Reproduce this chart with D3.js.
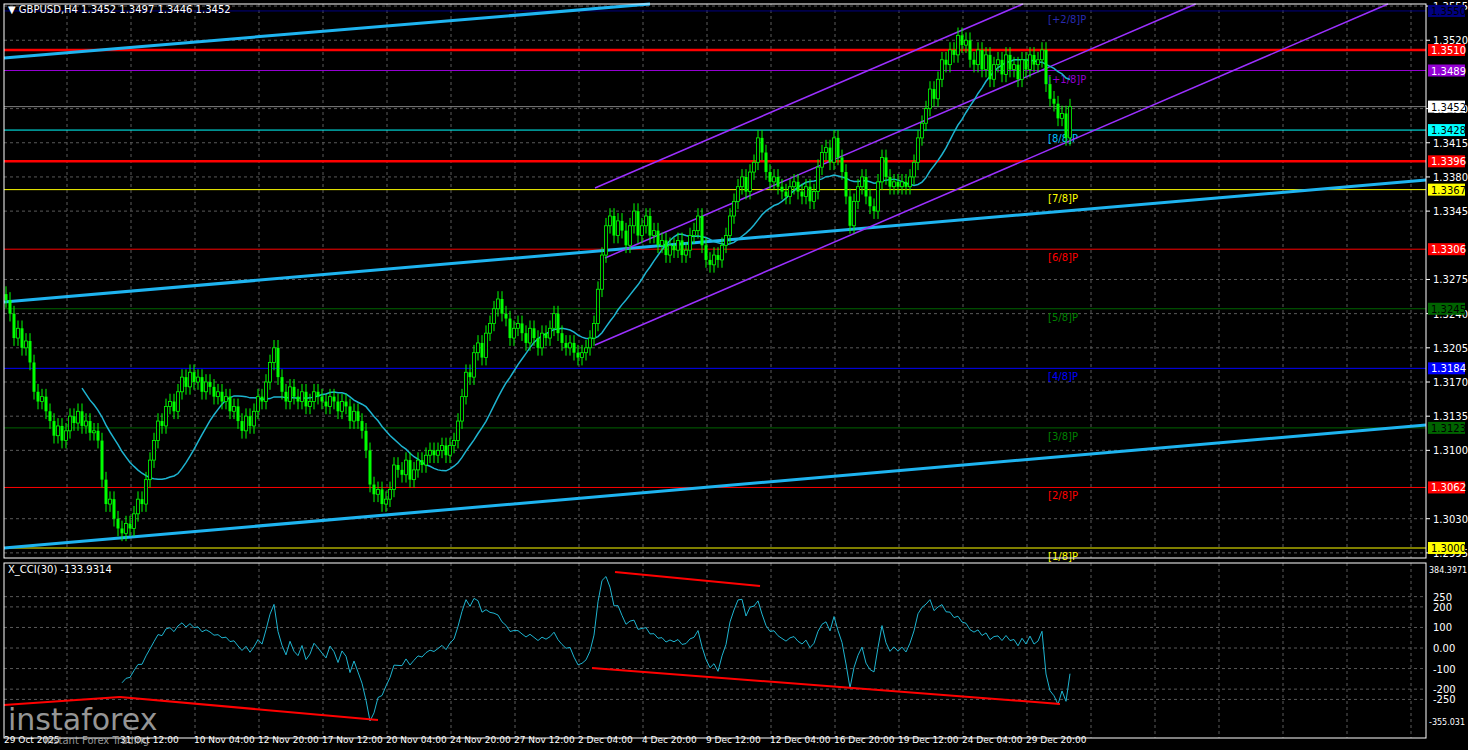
<!DOCTYPE html><html><head><meta charset="utf-8"><script src="https://cdn.jsdelivr.net/npm/d3@7"></script>
<style>body{margin:0;background:#000}svg{display:block}text{font-family:"DejaVu Sans",sans-serif;font-size:10px}</style></head><body><svg id="c" width="1468" height="750"></svg><script>
const closes=[1.3254,1.3240,1.3215,1.3225,1.3205,1.3212,1.3190,1.3160,1.3150,1.3155,1.3140,1.3130,1.3115,1.3125,1.3110,1.3120,
1.3135,1.3128,1.3140,1.3125,1.3130,1.3118,1.3120,1.3110,1.3070,1.3045,1.3050,1.3030,1.3020,1.3015,1.3025,1.3020,
1.3035,1.3050,1.3045,1.3070,1.3090,1.3110,1.3130,1.3125,1.3145,1.3150,1.3140,1.3160,1.3175,1.3165,1.3180,1.3170,
1.3175,1.3160,1.3170,1.3165,1.3155,1.3160,1.3150,1.3155,1.3140,1.3145,1.3130,1.3120,1.3135,1.3125,1.3140,1.3155,
1.3150,1.3170,1.3190,1.3205,1.3175,1.3160,1.3150,1.3165,1.3155,1.3150,1.3160,1.3145,1.3150,1.3160,1.3155,1.3150,
1.3145,1.3155,1.3150,1.3140,1.3150,1.3145,1.3130,1.3140,1.3130,1.3120,1.3100,1.3065,1.3055,1.3060,1.3045,1.3050,
1.3060,1.3085,1.3080,1.3075,1.3090,1.3070,1.3080,1.3090,1.3085,1.3095,1.3100,1.3095,1.3100,1.3105,1.3095,1.3105,
1.3110,1.3130,1.3155,1.3180,1.3175,1.3200,1.3210,1.3195,1.3220,1.3230,1.3245,1.3255,1.3240,1.3235,1.3215,1.3225,
1.3230,1.3220,1.3210,1.3225,1.3215,1.3205,1.3220,1.3215,1.3225,1.3240,1.3220,1.3210,1.3205,1.3210,1.3200,1.3195,
1.3200,1.3205,1.3215,1.3230,1.3265,1.3300,1.3330,1.3340,1.3320,1.3335,1.3325,1.3310,1.3330,1.3345,1.3320,1.3330,
1.3340,1.3320,1.3325,1.3310,1.3315,1.3300,1.3310,1.3305,1.3315,1.3300,1.3305,1.3320,1.3325,1.3340,1.3310,1.3295,
1.3290,1.3300,1.3295,1.3310,1.3320,1.3340,1.3355,1.3370,1.3380,1.3365,1.3385,1.3395,1.3420,1.3405,1.3385,1.3375,
1.3380,1.3370,1.3365,1.3360,1.3370,1.3375,1.3365,1.3360,1.3370,1.3355,1.3365,1.3390,1.3405,1.3410,1.3395,1.3420,
1.3400,1.3385,1.3360,1.3330,1.3355,1.3370,1.3380,1.3360,1.3350,1.3345,1.3375,1.3400,1.3380,1.3370,1.3375,1.3370,
1.3375,1.3370,1.3380,1.3395,1.3420,1.3435,1.3450,1.3470,1.3460,1.3480,1.3500,1.3495,1.3510,1.3505,1.3525,1.3515,
1.3520,1.3500,1.3495,1.3510,1.3490,1.3505,1.3480,1.3495,1.3500,1.3485,1.3505,1.3490,1.3495,1.3480,1.3500,1.3490,
1.3505,1.3495,1.3500,1.3510,1.3475,1.3460,1.3455,1.3440,1.3445,1.3420,1.3452];
const priceTicks=[1.3555,1.3520,1.3450,1.3415,1.3380,1.3345,1.3275,1.3240,1.3205,1.3170,1.3135,1.3100,1.3030,1.2995];
const levels=[{v:1.3550,c:"#000080",t:"[+2/8]P",tc:"#2a2ab0",w:1},{v:1.3510,c:"#ff0000",t:"",w:2.5},{v:1.3489,c:"#9400d3",t:"[+1/8]P",tc:"#9400d3",w:1},
{v:1.3452,c:"#808080",t:"",w:1},{v:1.3428,c:"#00ffff",t:"[8/8]P",tc:"#00bfff",w:1},{v:1.3396,c:"#ff0000",t:"",w:2.5},
{v:1.3367,c:"#ffff00",t:"[7/8]P",tc:"#ffff00",w:1},{v:1.3306,c:"#ff0000",t:"[6/8]P",tc:"#ff0000",w:1},{v:1.3245,c:"#006400",t:"[5/8]P",tc:"#008000",w:1},
{v:1.3184,c:"#0000ff",t:"[4/8]P",tc:"#0000ff",w:1},{v:1.3123,c:"#006400",t:"[3/8]P",tc:"#008000",w:1},{v:1.3062,c:"#ff0000",t:"[2/8]P",tc:"#ff0000",w:1},
{v:1.3000,c:"#ffff00",t:"[1/8]P",tc:"#ffff00",w:1}];
const timeLabels=["29 Oct 2025","31 Oct 12:00","10 Nov 04:00","12 Nov 20:00","17 Nov 12:00","20 Nov 04:00","24 Nov 20:00","27 Nov 12:00","2 Dec 04:00","4 Dec 20:00","9 Dec 12:00","12 Dec 04:00","16 Dec 20:00","19 Dec 12:00","24 Dec 04:00","29 Dec 20:00"];
const cciTicks=[250,200,100,0,-100,-200,-250];
const cciRange=[-355.031,384.3971];

const svg=d3.select("#c");
const L=4,R=1426,T=4,B=558,CT=563,CB=738;
const x=d3.scaleLinear().domain([0,267]).range([4,1072]);
const y=d3.scaleLinear().domain([1.3000,1.3510]).range([548,50]);
const yc=d3.scaleLinear().domain(cciRange).range([721,569]);
const seg=(p,c,w)=>svg.append("line").attr("x1",p[0]).attr("y1",p[1]).attr("x2",p[2]).attr("y2",p[3]).attr("stroke",c).attr("stroke-width",w);
const grid=svg.append("g").attr("stroke","#5a5a5a").attr("stroke-dasharray","3,3");
d3.range(67,R,64).forEach(xx=>{grid.append("line").attr("x1",xx).attr("x2",xx).attr("y1",T).attr("y2",B);grid.append("line").attr("x1",xx).attr("x2",xx).attr("y1",CT).attr("y2",CB);});
priceTicks.forEach(v=>grid.append("line").attr("x1",L).attr("x2",R).attr("y1",y(v)).attr("y2",y(v)));
cciTicks.forEach(v=>grid.append("line").attr("x1",L).attr("x2",R).attr("y1",yc(v)).attr("y2",yc(v)));
levels.forEach(l=>{seg([L,y(l.v),R,y(l.v)],l.c,l.w);
 if(l.t)svg.append("text").attr("x",1048).attr("y",y(l.v)+12).attr("fill",l.tc).text(l.t);});
seg([4,58,650,4],"#1eb4f0",3);seg([4,302,1426,180],"#1eb4f0",3);seg([4,548,1426,425],"#1eb4f0",3);
const s=0.43;
seg([595,188,595+184/s,4],"#9b30ff",1.5);seg([605,258,605+254/s,4],"#9b30ff",1.5);seg([595,345,595+341/s,4],"#9b30ff",1.5);
const P=20,ma=closes.map((c,i)=>i<P-1?null:d3.mean(closes.slice(i-P+1,i+1)));
svg.append("path").datum(ma.map((v,i)=>[i,v]).filter(d=>d[1]!=null)).attr("fill","none").attr("stroke","#1eb4d0").attr("stroke-width",1.5)
 .attr("d",d3.line().x(d=>x(d[0])+2).y(d=>y(d[1])));
const wick=0.0008;
const g=svg.append("g");
closes.forEach((c,i)=>{const o=i?closes[i-1]:c+0.0006;const hi=Math.max(o,c)+wick,lo=Math.min(o,c)-wick;const xx=x(i)+2;
 g.append("line").attr("x1",xx).attr("x2",xx).attr("y1",y(hi)).attr("y2",y(lo)).attr("stroke","#00ff00");
 g.append("rect").attr("x",xx-1.5).attr("width",3).attr("y",y(Math.max(o,c))).attr("height",Math.max(1,Math.abs(y(o)-y(c)))).attr("fill",c>=o?"#000":"#00ff00").attr("stroke","#00ff00").attr("stroke-width",c>=o?0.8:0);});
const N=30,cci=closes.map((c,i)=>{if(i<N-1)return null;const w=closes.slice(i-N+1,i+1),m=d3.mean(w),md=d3.mean(w,v=>Math.abs(v-m));return md?(c-m)/(0.015*md):0;});
svg.append("path").datum(cci.map((v,i)=>[i,v]).filter(d=>d[1]!=null)).attr("fill","none").attr("stroke","#1eb4d0").attr("stroke-width",1)
 .attr("d",d3.line().x(d=>x(d[0])+2).y(d=>yc(Math.max(cciRange[0],Math.min(cciRange[1],d[1])))));
seg([615,572,760,586],"#ff0000",2);seg([592,668,1060,704],"#ff0000",2);seg([4,705,120,697],"#ff0000",2);seg([120,697,378,720],"#ff0000",2);
svg.append("rect").attr("x",L).attr("y",T).attr("width",R-L).attr("height",B-T).attr("fill","none").attr("stroke","#fff");
svg.append("rect").attr("x",L).attr("y",CT).attr("width",R-L).attr("height",CB-CT).attr("fill","none").attr("stroke","#fff");
priceTicks.forEach(v=>{seg([R,y(v),R+4,y(v)],"#fff",1);
 svg.append("text").attr("x",1433).attr("y",y(v)+4).attr("fill","#fff").text(v.toFixed(4));});
const lblBg={"#808080":"#fff"};
levels.forEach(l=>{const bg=lblBg[l.c]||l.c;const fg=(bg=="#fff"||bg=="#ffff00"||bg=="#00ffff"||bg=="#006400"||bg=="#000080")?"#000":"#fff";
 svg.append("rect").attr("x",1428).attr("y",y(l.v)-6).attr("width",37).attr("height",12).attr("fill",bg);
 svg.append("text").attr("x",1431).attr("y",y(l.v)+4).attr("fill",fg).text(l.v.toFixed(4));});
cciTicks.forEach(v=>svg.append("text").attr("x",1433).attr("y",yc(v)+4).attr("fill","#fff").text(v==0?"0.00":v));
svg.append("text").attr("x",1429).attr("y",yc(cciRange[1])+4).attr("fill","#fff").style("font-size","8px").text("384.3971");
svg.append("text").attr("x",1429).attr("y",yc(cciRange[0])+4).attr("fill","#fff").style("font-size","8px").text("-355.031");
timeLabels.forEach((t,i)=>{const xx=i==0?4:i==1?120:194+64*(i-2);svg.append("text").attr("x",xx).attr("y",743).attr("fill","#fff").style("font-size","9px").text(t);});
svg.append("text").attr("x",8).attr("y",13).attr("fill","#fff").text("▼ GBPUSD,H4  1.3452 1.3497 1.3446 1.3452");
svg.append("text").attr("x",8).attr("y",573).attr("fill","#fff").text("X_CCI(30) -133.9314");
svg.append("text").attr("x",8).attr("y",730).attr("fill","#bbb").attr("opacity",0.8).style("font-size","30px").text("instaforex");
svg.append("text").attr("x",44).attr("y",744).attr("fill","#bbb").attr("opacity",0.8).style("font-size","10px").text("Instant Forex Trading");
</script></body></html>
